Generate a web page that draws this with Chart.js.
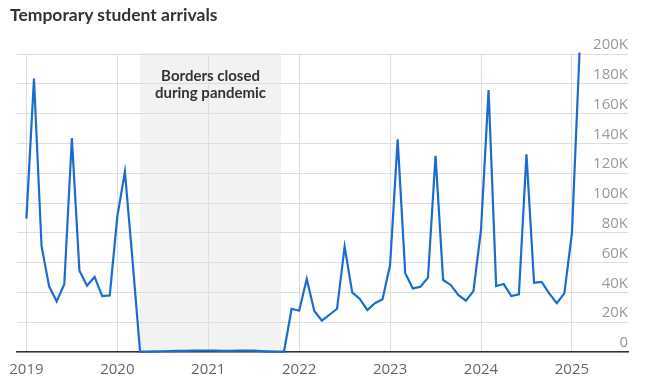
<!DOCTYPE html>
<html>
<head>
<meta charset="utf-8">
<script src="https://cdn.jsdelivr.net/npm/chart.js@4"></script>
<style>
  body { margin: 0; background: #fff; }
  #wrap { position: relative; width: 652px; height: 383px; }
  #title { position: absolute; left: 10px; top: 4px; font: bold 17.5px Lato, sans-serif; color: #333; }
</style>
</head>
<body>
<div id="wrap">
  <div id="title">Temporary student arrivals</div>
  <canvas id="chart" width="652" height="383"></canvas>
</div>
<script>
// monthly arrivals in thousands, Jan 2019 .. Feb 2025
const startYear = 2019;
const arrivals = [
    89.5, 183.5, 71, 44, 34, 45.5, 143.5, 54.5, 44.5, 50.5, 37.5, 38,
    91, 121, 62, 0.3, 0.3, 0.4, 0.5, 0.6, 0.7, 0.8, 0.9, 1.0,
    1.0, 0.9, 0.8, 0.8, 0.9, 1.0, 0.9, 0.6, 0.4, 0.3, 0.3, 29,
    27.7, 49, 27.5, 21, 25, 29, 70.7, 40, 35.6, 28.2, 32.7, 35.4,
    58.4, 142.7, 52.8, 42.7, 43.8, 49.9, 131.7, 48.3, 45, 38.3, 34.4, 40.9,
    81.9, 175.8, 44.3, 45.6, 37.6, 38.7, 132.7, 46.5, 47, 39.4, 32.7, 39.4,
    79.7, 201
];
const yearTicks = [2019, 2020, 2021, 2022, 2023, 2024, 2025];
const yMax = 200000;
const yStep = 20000;

// borders closed, in months since Jan 2019
const closedStart = 15;
const closedEnd = 33.6;
const closedLabel = ["Borders closed", "during pandemic"];

const points = arrivals.map((v, i) => ({ x: i, y: v * 1000 }));

const closedBand = {
    id: "closedBand",
    beforeDraw(chart) {
        const { ctx, chartArea, scales } = chart;
        const x1 = scales.x.getPixelForValue(closedStart);
        const x2 = scales.x.getPixelForValue(closedEnd);
        ctx.save();
        ctx.fillStyle = "#f2f2f2";
        ctx.fillRect(x1, chartArea.top - 1, x2 - x1, chartArea.bottom - chartArea.top + 1);
        ctx.restore();
    },
    afterDatasetsDraw(chart) {
        const { ctx, chartArea, scales } = chart;
        const cx = (scales.x.getPixelForValue(closedStart) + scales.x.getPixelForValue(closedEnd)) / 2;
        ctx.save();
        ctx.font = "bold 15px Lato, sans-serif";
        ctx.fillStyle = "#333";
        ctx.textAlign = "center";
        ctx.textBaseline = "middle";
        closedLabel.forEach((t, i) => ctx.fillText(t, cx, chartArea.top + 22 + i * 17));
        ctx.restore();
    }
};

const chart = new Chart(document.getElementById("chart").getContext("2d"), {
    type: "line",
    data: {
        datasets: [{
            data: points,
            borderColor: "#1a6dcf",
            borderWidth: 2.2,
            pointRadius: 0,
            tension: 0,
            clip: 6
        }]
    },
    options: {
        responsive: false,
        devicePixelRatio: 1,
        animation: false,
        layout: { padding: { top: 54, left: 16, right: 24, bottom: 0 } },
        plugins: { legend: { display: false }, tooltip: { enabled: false } },
        scales: {
            x: {
                type: "linear",
                min: -1.24,
                max: 79.4,
                afterBuildTicks: s => { s.ticks = yearTicks.map(y => ({ value: (y - startYear) * 12 })); },
                afterFit: s => { s.height = 31; },
                grid: { color: "#ddd", drawTicks: false },
                border: { color: "#333", width: 1.5 },
                ticks: {
                    callback: v => startYear + Math.round(v / 12),
                    color: "#666",
                    font: { family: "'Open Sans', sans-serif", size: 15 },
                    padding: 9,
                    maxRotation: 0,
                    autoSkip: false
                }
            },
            y: {
                position: "right",
                min: 0,
                max: yMax,
                grid: { color: "#ddd", drawTicks: false },
                border: { display: false },
                ticks: {
                    stepSize: yStep,
                    mirror: true,
                    labelOffset: -9,
                    padding: 0,
                    color: "#999",
                    font: { family: "'Open Sans', sans-serif", size: 15 },
                    callback: v => v === 0 ? "0" : (v / 1000) + "K"
                }
            }
        }
    },
    plugins: [closedBand]
});
</script>
</body>
</html>
